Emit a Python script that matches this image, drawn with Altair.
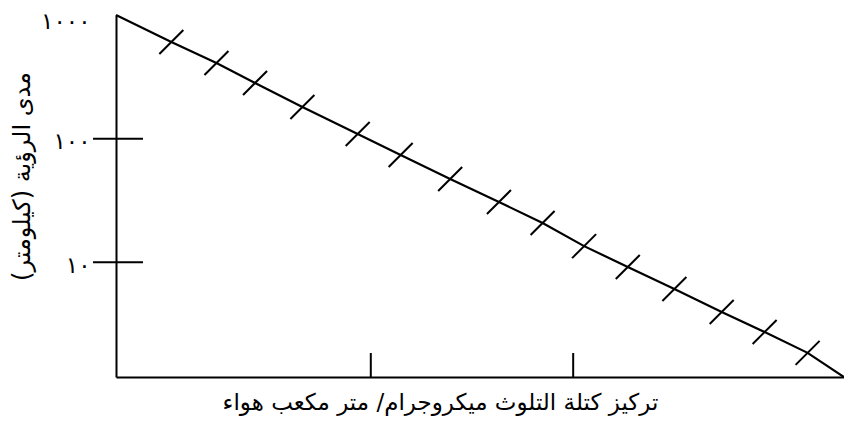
import altair as alt
import pandas as pd

# Values (x in % of the axis length, y in km, log scale)
cross_x = [7.6, 13.8, 19.1, 25.6, 33.2, 39.1, 45.9, 52.6, 58.6, 64.3, 70.3, 76.7, 83.2, 89.1, 95.0]
cross_y = [605, 409, 282, 180, 109, 73.7, 47.2, 30.7, 20.8, 13.5, 9.16, 6.08, 3.96, 2.73, 1.85]
line_start = (0, 1000)
line_end = (100, 1.18)

y_tick_values = [10, 100, 1000]
y_tick_labels = ["١٠", "١٠٠", "١٠٠٠"]
y_inner_ticks = [10, 100]
x_ticks = [35.0, 62.8]

x_title = "تركيز كتلة التلوث ميكروجرام/ متر مكعب هواء"
y_title = "\u200fمدى الرؤية (كيلومتر)\u200f"

FONT = "DejaVu Sans"

line_df = pd.DataFrame({
    "x": [line_start[0]] + cross_x + [line_end[0]],
    "y": [line_start[1]] + cross_y + [line_end[1]],
})
cross_df = pd.DataFrame({"x": cross_x, "y": cross_y})
ytick_df = pd.DataFrame({"y": y_inner_ticks})
xtick_df = pd.DataFrame({"x": x_ticks})

label_expr = " : ".join(
    f"datum.value == {v} ? '{l}'" for v, l in zip(y_tick_values[:-1], y_tick_labels[:-1])
) + f" : '{y_tick_labels[-1]}'"

x_scale = alt.Scale(domain=[0, 100], nice=False, zero=False)
y_scale = alt.Scale(type="log", domain=[1.18, 1000], nice=False)

line = alt.Chart(line_df).mark_line(color="black", strokeWidth=2.2).encode(
    x=alt.X("x:Q", scale=x_scale,
            axis=alt.Axis(title=x_title, labels=False, ticks=False, grid=False,
                          domainColor="black", domainWidth=2,
                          titleFont=FONT, titleFontSize=23, titleFontWeight="normal",
                          titleColor="black", titleX=324, titleY=25,
                          titleBaseline="middle", titleAlign="center")),
    y=alt.Y("y:Q", scale=y_scale,
            axis=alt.Axis(title=y_title, values=y_tick_values, labelExpr=label_expr,
                          ticks=False, grid=False, labelPadding=26,
                          labelOffset={"expr": "datum.value == 1000 ? 6 : 3"},
                          labelFont=FONT, labelFontSize=23, labelColor="black",
                          labelFlush=False, labelOverlap=False, labelBaseline="middle",
                          domainColor="black", domainWidth=2,
                          titleFont=FONT, titleFontSize=24, titleFontWeight="normal",
                          titleColor="black", titleX=-94, titleY=161,
                          titleBaseline="middle", titleAlign="center", titleAngle=-90)),
)

crosses = alt.Chart(cross_df).mark_point(
    shape="M-1,1L1,-1", size=576, filled=False, stroke="black", strokeWidth=2, opacity=1
).encode(x=alt.X("x:Q", scale=x_scale), y=alt.Y("y:Q", scale=y_scale))

yticks = alt.Chart(ytick_df).mark_rule(color="black", strokeWidth=2).encode(
    y=alt.Y("y:Q", scale=y_scale), x=alt.value(-23), x2=alt.value(27)
)

xticks = alt.Chart(xtick_df).mark_rule(color="black", strokeWidth=2).encode(
    x=alt.X("x:Q", scale=x_scale), y=alt.value(338), y2=alt.value(362)
)

chart = alt.layer(line, crosses, yticks, xticks).properties(
    width=728, height=362,
    autosize=alt.AutoSizeParams(type="none"),
    padding={"left": 108, "top": 7, "right": 0, "bottom": 41},
    background="white",
).configure_view(stroke=None)

chart.save("out.html", embed_options={"renderer": "svg", "actions": False})
